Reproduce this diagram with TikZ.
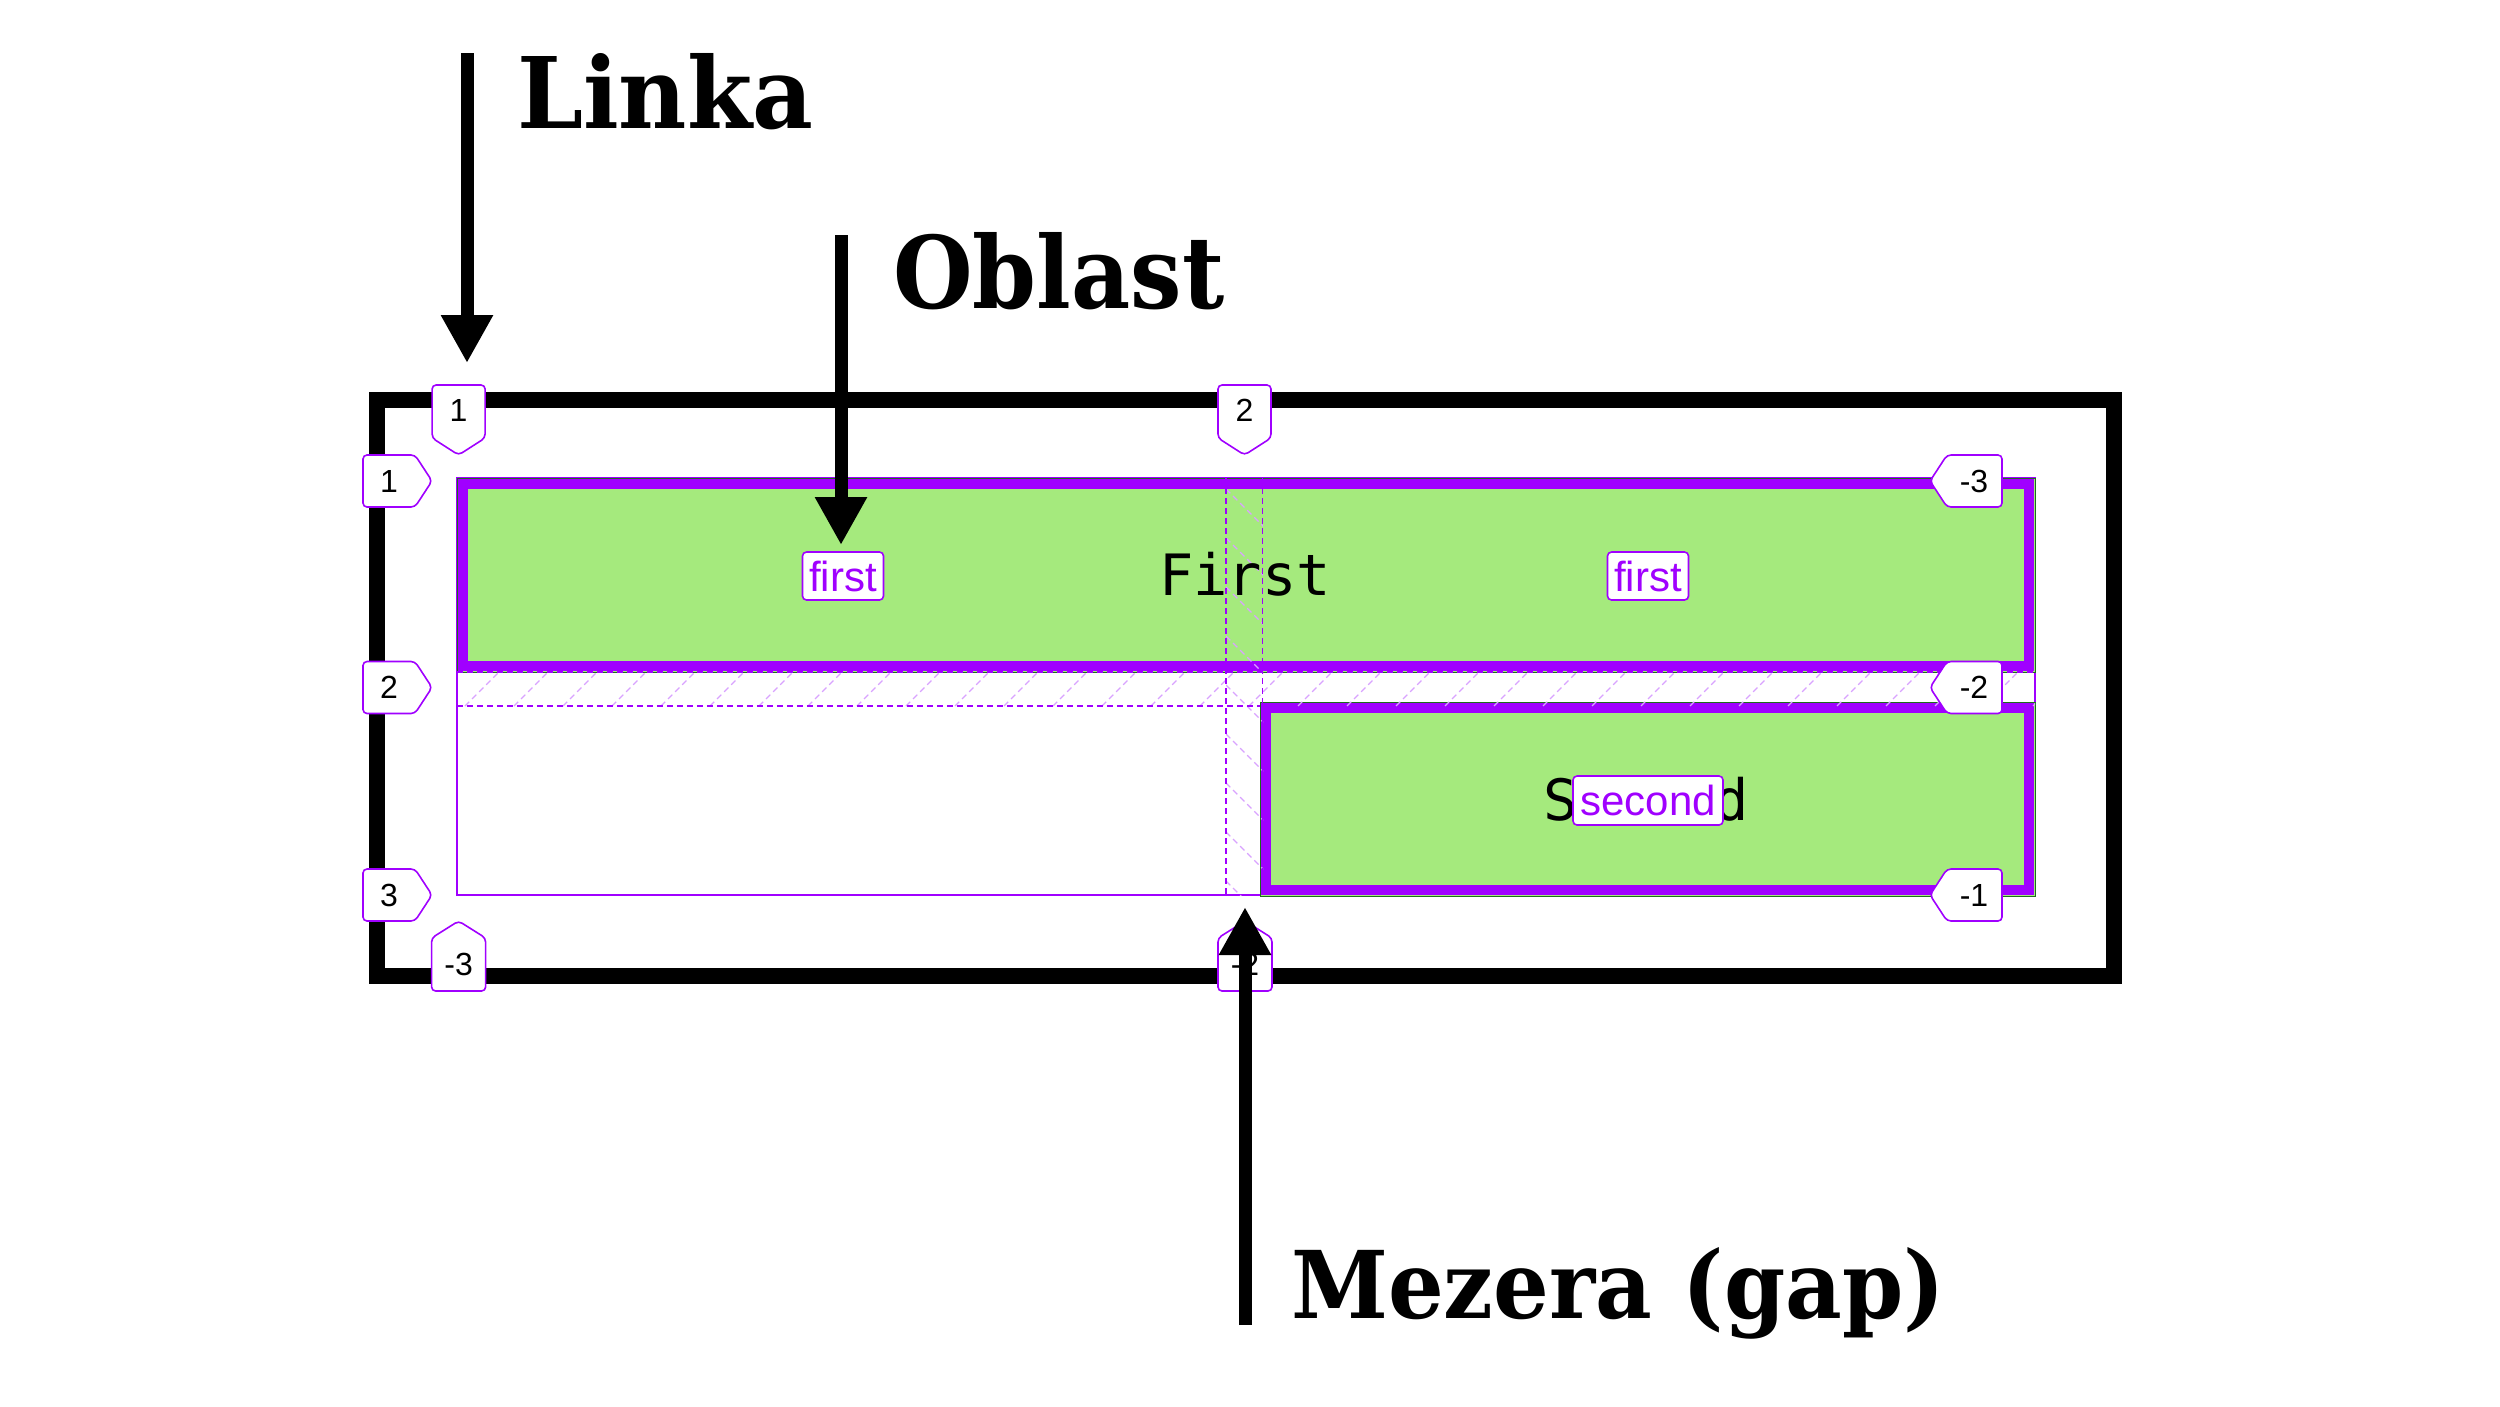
\documentclass[tikz,border=0pt]{standalone}
\usepackage{fontspec}
\usepackage{graphicx}
\usetikzlibrary{arrows.meta}
\newfontfamily\myHead{DejaVu Serif}
\newfontfamily\myTag{Liberation Sans}
\newfontfamily\myCode{DejaVu Sans Mono}
\definecolor{gridpurple}{HTML}{A000FF}
\definecolor{itemgreen}{HTML}{A5EA7D}
\definecolor{hatchpurple}{HTML}{D9A3FF}
\definecolor{darkgreen}{HTML}{1E6B1E}

\tikzset{
  blackframe/.style={draw=black, line width=16pt},
  gridline/.style={draw=gridpurple, line width=1.8pt},
  trackline/.style={draw=gridpurple, line width=1.6pt, dash pattern=on 6pt off 4pt},
  hatchline/.style={draw=hatchpurple, line width=1.2pt, dash pattern=on 6pt off 4pt},
  itembox/.style={fill=itemgreen, draw=darkgreen, line width=1pt},
  itemborder/.style={draw=gridpurple, line width=10pt},
  tagshape/.style={draw=gridpurple, fill=white, line width=1.6pt, rounded corners=4pt},
  tagtext/.style={font=\myTag\fontsize{32}{32}\selectfont, text=black, inner sep=0pt},
  areatag/.style={draw=gridpurple, fill=white, line width=1.6pt, rounded corners=4pt,
    text=gridpurple, font=\myTag\fontsize{42}{42}\selectfont, inner sep=0pt},
  itemtext/.style={font=\myCode\fontsize{57}{57}\selectfont, text=black, inner sep=0pt, anchor=base},
  bigarrow/.style={draw=black, line width=13pt, -{Triangle[width=49pt,length=48pt]}},
  heading/.style={anchor=base west, inner sep=0pt},
}

% tag pointing down (top of column line)
\newcommand{\TagDown}[3]{%
  \draw[tagshape] (#2,455) -- ({#2-26.5},438) -- ({#2-26.5},385) -- ({#2+26.5},385) -- ({#2+26.5},438) -- cycle;
  \node[tagtext] (#1) at (#2,410) {#3};}
% tag pointing up (bottom of column line)
\newcommand{\TagUp}[3]{%
  \draw[tagshape] (#2,921) -- ({#2-27},938) -- ({#2-27},991) -- ({#2+27},991) -- ({#2+27},938) -- cycle;
  \node[tagtext] (#1) at (#2,964) {#3};}
% tag pointing right (left of row line)
\newcommand{\TagRight}[3]{%
  \draw[tagshape] (432,#2) -- (415,{#2-26}) -- (363,{#2-26}) -- (363,{#2+26}) -- (415,{#2+26}) -- cycle;
  \node[tagtext] (#1) at (389,#2) {#3};}
% tag pointing left (right of row line)
\newcommand{\TagLeft}[3]{%
  \draw[tagshape] (1930,#2) -- (1947,{#2-26}) -- (2002,{#2-26}) -- (2002,{#2+26}) -- (1947,{#2+26}) -- cycle;
  \node[tagtext] (#1) at (1974,#2) {#3};}

\begin{document}
\begin{tikzpicture}[x=1pt,y=-1pt]
  \fill[white] (0,0) rectangle (2500,1406);
  \useasboundingbox (0,0) rectangle (2500,1406);

  % container
  \draw[blackframe] (377,400) rectangle (2114,976);

  % grid outline
  \draw[gridline] (457,478) rectangle (2035,895);

  % items
  \path[itembox] (457,478) rectangle (2035,672);
  \draw[itemborder] (463,484) rectangle (2029,666);
  \path[itembox] (1260,702) rectangle (2035,896);
  \draw[itemborder] (1266,708) rectangle (2029,890);

  % gap hatching
  \begin{scope}
    \clip (457,672) rectangle (2035,706);
    \foreach \k in {0,...,33} \draw[hatchline] ({416+49*\k},706) -- ++(40,-40);
  \end{scope}
  \begin{scope}
    \clip (1226,478) rectangle (1263,895);
    \foreach \k in {0,...,9} \draw[hatchline] (1226,{440+49*\k}) -- ++(60,60);
  \end{scope}

  % track lines (dashed)
  \draw[trackline] (457,672) -- (2035,672);
  \draw[trackline] (457,706) -- (1260,706);
  \draw[trackline] (1226,478) -- (1226,895);
  \draw[trackline] (1262.5,478) -- (1262.5,895);

  % item texts
  \node[itemtext] (firstText) at (1245,595) {First};
  \node[itemtext] (secondText) at (1646,820) {Second};

  % area name tags
  \node[areatag, minimum width=81pt, minimum height=48pt] (firstA) at (843,576) {first};
  \node[areatag, minimum width=81pt, minimum height=48pt] (firstB) at (1648,576) {first};
  \node[areatag, minimum width=150pt, minimum height=49pt] (secondTag) at (1648,800.5) {second};

  % line number tags
  \TagDown{colA}{458.6}{1}
  \TagDown{colB}{1244.5}{2}
  \TagUp{colC}{458.6}{-3}
  \TagUp{colD}{1245}{-2}
  \TagRight{rowA}{481}{1}
  \TagRight{rowB}{687.5}{2}
  \TagRight{rowC}{895}{3}
  \TagLeft{rowD}{481}{-3}
  \TagLeft{rowE}{687.5}{-2}
  \TagLeft{rowF}{895}{-1}

  % arrows
  \coordinate (linkaStart) at (467,53);
  \coordinate (linkaEnd) at (467,363);
  \coordinate (oblastStart) at (841,235);
  \coordinate (oblastEnd) at (841,545);
  \coordinate (gapStart) at (1245,1325);
  \coordinate (gapEnd) at (1245,907);
  \draw[bigarrow] (linkaStart) -- (linkaEnd);
  \draw[bigarrow] (oblastStart) -- (oblastEnd);
  \draw[bigarrow] (gapStart) -- (gapEnd);

  % headings
  \node[heading] (linka) at (517,128) {\resizebox{296pt}{75pt}{\myHead\bfseries Linka}};
  \node[heading] (oblast) at (893,308) {\resizebox{331pt}{76pt}{\myHead\bfseries Oblast}};
  \node[heading] (mezera) at (1291,1318) {\resizebox{654pt}{71pt}{\myHead\bfseries Mezera (gap)}};
\end{tikzpicture}
\end{document}
